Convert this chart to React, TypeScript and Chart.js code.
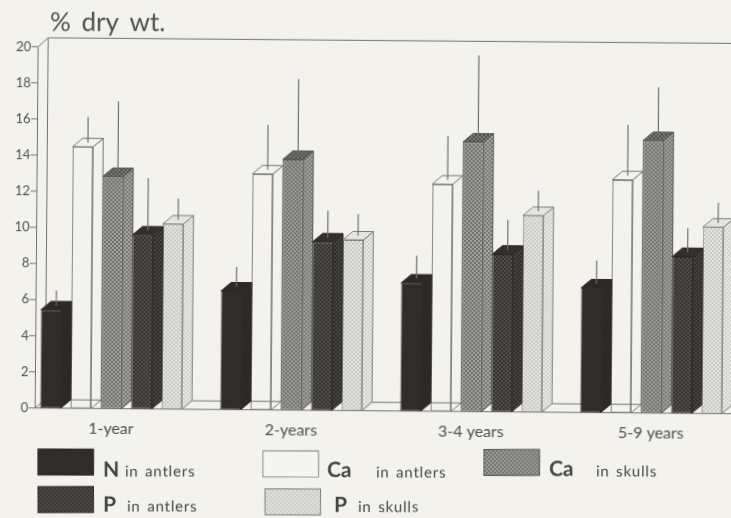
import React, { useEffect, useRef } from "react";
import { Chart, registerables } from "chart.js";

Chart.register(...registerables);

const categories = ["1-year", "2-years", "3-4 years", "5-9 years"];
const seriesNames = ["N in antlers", "Ca in antlers", "Ca in skulls", "P in antlers", "P in skulls"];

const nAntlers = [5.44, 6.57, 7.09, 6.9];
const caAntlers = [14.48, 13.06, 12.58, 12.9];
const caSkulls = [12.85, 13.88, 14.92, 15.08];
const pAntlers = [9.63, 9.32, 8.73, 8.68];
const pSkulls = [10.25, 9.45, 10.88, 10.32];

const nAntlersUpper = [6.51, 7.9, 8.59, 8.41];
const caAntlersUpper = [16.14, 15.78, 15.25, 15.94];
const caSkullsUpper = [17.0, 18.34, 19.72, 18.04];
const pAntlersUpper = [12.77, 11.06, 10.63, 10.25];
const pSkullsUpper = [11.67, 10.88, 12.26, 11.68];

const yTickStep = 2;
const yMax = 20;
const titleText = "% dry wt.";

const BG = "#f3f2ed";
const INK = "#4f4f4d";
const LINE = "#747471";
const FONT = "Lato, 'Open Sans', sans-serif";
const THETA = 0.0082;
const DX = 10;
const DY = -8.5;

function tile(a: string, b: string) {
  const c = document.createElement("canvas");
  c.width = 4;
  c.height = 4;
  const g = c.getContext("2d")!;
  g.fillStyle = a;
  g.fillRect(0, 0, 4, 4);
  g.fillStyle = b;
  g.fillRect(0, 0, 2, 2);
  g.fillRect(2, 2, 2, 2);
  return g.createPattern(c, "repeat")!;
}

export default function App() {
  const ref = useRef<HTMLCanvasElement>(null);

  useEffect(() => {
    const front = [
      tile("#2c2928", "#343030"),
      "rgba(0,0,0,0)",
      tile("#6e6e6b", "#a0a09c"),
      tile("#343130", "#524f4d"),
      tile("#c8c8c4", "#e6e6e1"),
    ];
    const side = [
      "#2c2928",
      "rgba(0,0,0,0)",
      tile("#777774", "#a3a39f"),
      tile("#2e2b2a", "#484543"),
      tile("#d2d2ce", "#e8e8e3"),
    ];
    const top = ["#2c2928", BG, tile("#4d4d4b", "#7b7b78"), "#322f2e", "#e6e6e1"];
    const edge = ["#2c2928", LINE, "#565654", "#2c2928", "#7d7d7a"];
    const uppers = [nAntlersUpper, caAntlersUpper, caSkullsUpper, pAntlersUpper, pSkullsUpper];

    const legendItems = [
      { i: 0, box: [38, 449], head: "N", hx: 103, hy: 476.5, tail: "in antlers", tx: 125, ty: 476.5 },
      { i: 3, box: [38, 486.5], head: "P", hx: 103, hy: 511.5, tail: "in antlers", tx: 127, ty: 511.5 },
      { i: 1, box: [263, 451], head: "Ca", hx: 327, hy: 477, tail: "in antlers", tx: 376, ty: 477.5 },
      { i: 4, box: [265, 489], head: "P", hx: 334, hy: 512, tail: "in skulls", tx: 358, ty: 512 },
      { i: 2, box: [484, 449.5], head: "Ca", hx: 549, hy: 476, tail: "in skulls", tx: 596, ty: 476.5 },
    ];

    const frame = {
      id: "frame3d",
      beforeDatasetsDraw(chart: any) {
        const { ctx, chartArea: a, scales } = chart;
        const y = scales.y;
        const x0 = 38.5;
        const yB = y.getPixelForValue(0);
        const yT = y.getPixelForValue(yMax);
        ctx.save();
        ctx.strokeStyle = LINE;
        ctx.lineWidth = 1;
        ctx.beginPath();
        ctx.moveTo(x0, yB);
        ctx.lineTo(x0, yT);
        ctx.lineTo(x0 + DX, yT - 9);
        ctx.lineTo(a.right + 5, yT - 9);
        ctx.moveTo(x0 + DX, yT - 9);
        ctx.lineTo(x0 + DX, yB + DY);
        ctx.lineTo(a.right + 5, yB + DY);
        ctx.moveTo(x0, yB);
        ctx.lineTo(x0 + DX, yB + DY);
        ctx.moveTo(32, yB);
        ctx.lineTo(a.right + 5, yB);
        for (let v = yTickStep; v <= yMax; v += yTickStep) {
          const p = y.getPixelForValue(v);
          ctx.moveTo(32, p);
          ctx.lineTo(x0, p);
        }
        ctx.stroke();
        ctx.restore();
      },
      afterDatasetsDraw(chart: any) {
        const { ctx, scales } = chart;
        const y = scales.y;
        ctx.save();
        ctx.lineWidth = 1;
        seriesNames.forEach((_, d) => {
          chart.getDatasetMeta(d).data.forEach((el: any, k: number) => {
            const r = el.x + el.width / 2;
            const l = el.x - el.width / 2;
            ctx.strokeStyle = edge[d];
            ctx.fillStyle = side[d];
            ctx.beginPath();
            ctx.moveTo(r, el.y);
            ctx.lineTo(r + DX, el.y + DY);
            ctx.lineTo(r + DX, el.base + DY);
            ctx.lineTo(r, el.base);
            ctx.closePath();
            ctx.fill();
            ctx.stroke();
            ctx.fillStyle = top[d];
            ctx.beginPath();
            ctx.moveTo(l, el.y);
            ctx.lineTo(l + DX, el.y + DY);
            ctx.lineTo(r + DX, el.y + DY);
            ctx.lineTo(r, el.y);
            ctx.closePath();
            ctx.fill();
            ctx.stroke();
            ctx.strokeStyle = "#6f6f6c";
            ctx.lineWidth = 1.2;
            ctx.beginPath();
            ctx.moveTo(el.x + DX / 2, el.y + DY / 2);
            ctx.lineTo(el.x + DX / 2, y.getPixelForValue(uppers[d][k]));
            ctx.stroke();
            ctx.lineWidth = 1;
          });
        });
        ctx.restore();
      },
      afterDraw(chart: any) {
        const { ctx } = chart;
        ctx.save();
        ctx.rotate(-THETA);
        ctx.fillStyle = INK;
        ctx.textAlign = "left";
        ctx.textBaseline = "alphabetic";
        ctx.font = `400 26px ${FONT}`;
        (ctx as any).wordSpacing = "4px";
        ctx.fillText(titleText, 50, 31);
        (ctx as any).wordSpacing = "0px";
        legendItems.forEach((it) => {
          const [bx, by] = it.box;
          ctx.fillStyle = it.i === 1 ? "#f6f5f1" : front[it.i];
          ctx.fillRect(bx, by, 55.5, 26);
          ctx.strokeStyle = it.i === 1 ? "#8a8a87" : edge[it.i];
          ctx.lineWidth = 1;
          ctx.strokeRect(bx, by, 55.5, 26);
          ctx.fillStyle = "#444442";
          ctx.font = `700 21px ${FONT}`;
          ctx.fillText(it.head, it.hx, it.hy);
          ctx.font = `400 15px ${FONT}`;
          (ctx as any).letterSpacing = "0.8px";
          (ctx as any).wordSpacing = "2px";
          ctx.fillText(it.tail, it.tx, it.ty);
          (ctx as any).letterSpacing = "0px";
          (ctx as any).wordSpacing = "0px";
        });
        ctx.restore();
      },
    };

    const series = [nAntlers, caAntlers, caSkulls, pAntlers, pSkulls];
    const chart = new Chart(ref.current!, {
      type: "bar",
      data: {
        labels: categories,
        datasets: series.map((data, d) => ({
          label: seriesNames[d],
          data,
          backgroundColor: front[d] as any,
          borderColor: edge[d],
          borderWidth: 1,
          borderSkipped: false,
          categoryPercentage: 0.842,
          barPercentage: 0.677,
        })),
      },
      options: {
        responsive: false,
        animation: false,
        layout: { padding: { top: 46.4, right: 0.6, left: 0, bottom: 0 } },
        plugins: { legend: { display: false }, title: { display: false }, tooltip: { enabled: false } },
        scales: {
          x: {
            grid: { display: false, drawTicks: false },
            border: { display: false },
            ticks: { color: INK, font: { family: FONT, size: 16 }, padding: 11, maxRotation: 0, autoSkip: false },
            afterFit: (s: any) => {
              s.height = 110.3;
            },
          },
          y: {
            min: 0,
            max: yMax,
            grid: { display: false, drawTicks: false },
            border: { display: false },
            ticks: {
              stepSize: yTickStep,
              color: INK,
              font: { family: FONT, size: 13 },
              mirror: true,
              crossAlign: "far",
              padding: -8,
            },
            afterFit: (s: any) => {
              s.width = 24.4;
            },
          },
        },
      },
      plugins: [frame],
    } as any);
    return () => chart.destroy();
  }, []);

  return (
    <div style={{ position: "fixed", left: 0, top: 0, width: 731, height: 518, overflow: "hidden", background: BG }}>
      <canvas
        ref={ref}
        width={745}
        height={518}
        style={{ display: "block", transformOrigin: "0 0", transform: `rotate(${THETA}rad)`, filter: "blur(0.4px)" }}
      />
    </div>
  );
}
